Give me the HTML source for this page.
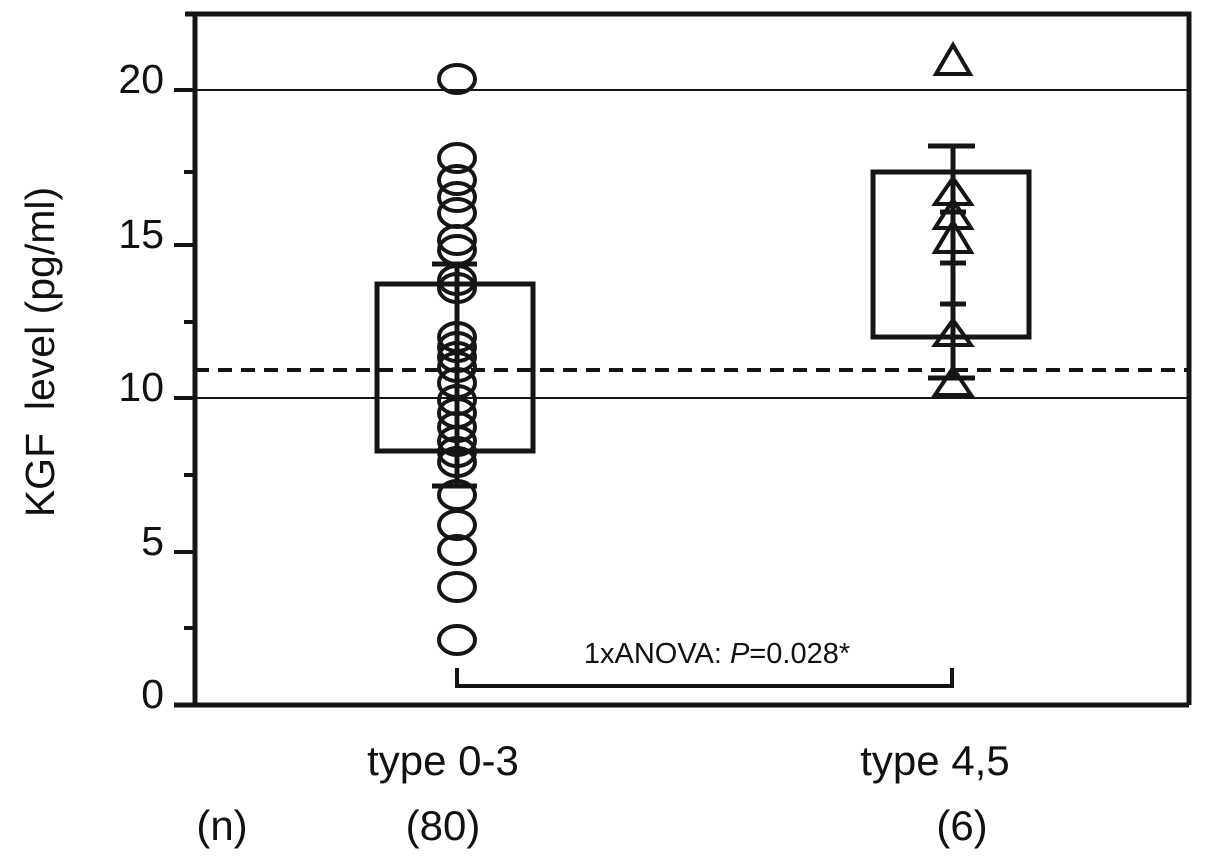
<!DOCTYPE html>
<html><head><style>body{margin:0;background:#fff}svg{display:block}</style></head><body>
<svg width="1205" height="856" viewBox="0 0 1205 856" xmlns="http://www.w3.org/2000/svg" font-family="Liberation Sans, sans-serif" fill="#111">
<g stroke="#151515" fill="none">
<line x1="195" y1="90" x2="1189" y2="90" stroke-width="2"/>
<line x1="195" y1="398" x2="1189" y2="398" stroke-width="2"/>
<line x1="195" y1="370" x2="1189" y2="370" stroke-width="4" stroke-dasharray="14,9"/>
<path d="M185 14 H1189 V705" stroke-width="5"/>
<path d="M195 14 V705 M174 705 H1189" stroke-width="5"/>
<path d="M174 90H195 M184 172H195 M174 245H195 M184 322H195 M174 398H195 M184 475H195 M174 552H195 M184 628H195" stroke-width="4"/>
<rect x="377" y="284" width="156" height="167" stroke-width="5"/>
<path d="M457 264V486 M432 264H477 M432 486H477" stroke-width="5"/>
<g stroke-width="4">
<ellipse cx="457" cy="79" rx="18" ry="14"/>
<ellipse cx="457" cy="158" rx="18" ry="14"/>
<ellipse cx="457" cy="180" rx="18" ry="14"/>
<ellipse cx="457" cy="197" rx="18" ry="14"/>
<ellipse cx="457" cy="213" rx="18" ry="14"/>
<ellipse cx="457" cy="240" rx="18" ry="14"/>
<ellipse cx="457" cy="250" rx="18" ry="14"/>
<ellipse cx="457" cy="280" rx="18" ry="14"/>
<ellipse cx="457" cy="288" rx="18" ry="14"/>
<ellipse cx="457" cy="337" rx="18" ry="14"/>
<ellipse cx="457" cy="347" rx="18" ry="14"/>
<ellipse cx="457" cy="357" rx="18" ry="14"/>
<ellipse cx="457" cy="367" rx="18" ry="14"/>
<ellipse cx="457" cy="383" rx="18" ry="14"/>
<ellipse cx="457" cy="400" rx="18" ry="14"/>
<ellipse cx="457" cy="413" rx="18" ry="14"/>
<ellipse cx="457" cy="427" rx="18" ry="14"/>
<ellipse cx="457" cy="441" rx="18" ry="14"/>
<ellipse cx="457" cy="452" rx="18" ry="14"/>
<ellipse cx="457" cy="462" rx="18" ry="14"/>
<ellipse cx="457" cy="495" rx="18" ry="14"/>
<ellipse cx="457" cy="525" rx="18" ry="14"/>
<ellipse cx="457" cy="550" rx="18" ry="14"/>
<ellipse cx="457" cy="587" rx="18" ry="14"/>
<ellipse cx="457" cy="640" rx="18" ry="14"/>
</g>
<rect x="873" y="172" width="156" height="165" stroke-width="5"/>
<path d="M953 146V378 M928 146H975 M928 378H975 M940 212H966 M940 263H966 M940 304H966" stroke-width="5"/>
<g stroke-width="4" stroke-linejoin="miter">
<path d="M953 45 L970 74 L936 74 Z"/>
<path d="M953 178 L971 204 L935 204 Z"/>
<path d="M953 200 L971 228 L935 228 Z"/>
<path d="M953 222 L971 252 L935 252 Z"/>
<path d="M953 320 L971 345 L935 345 Z"/>
<path d="M953 368 L971 395 L935 395 Z"/>
</g>
<path d="M457 668V686H952V668" stroke-width="4"/>
</g>
<g font-size="41" text-anchor="end">
<text x="164" y="93">20</text>
<text x="164" y="248">15</text>
<text x="164" y="401">10</text>
<text x="164" y="555">5</text>
<text x="164" y="708">0</text>
</g>
<text x="717" y="663" font-size="29" text-anchor="middle">1xANOVA: <tspan font-style="italic">P</tspan>=0.028*</text>
<g font-size="42" text-anchor="middle">
<text x="443" y="775">type 0-3</text>
<text x="935" y="775">type 4,5</text>
<text x="222" y="840">(n)</text>
<text x="443" y="840">(80)</text>
<text x="962" y="840">(6)</text>
</g>
<text transform="translate(54,352) rotate(-90)" font-size="41" text-anchor="middle" xml:space="preserve">KGF  level (pg/ml)</text>
</svg>
</body></html>
